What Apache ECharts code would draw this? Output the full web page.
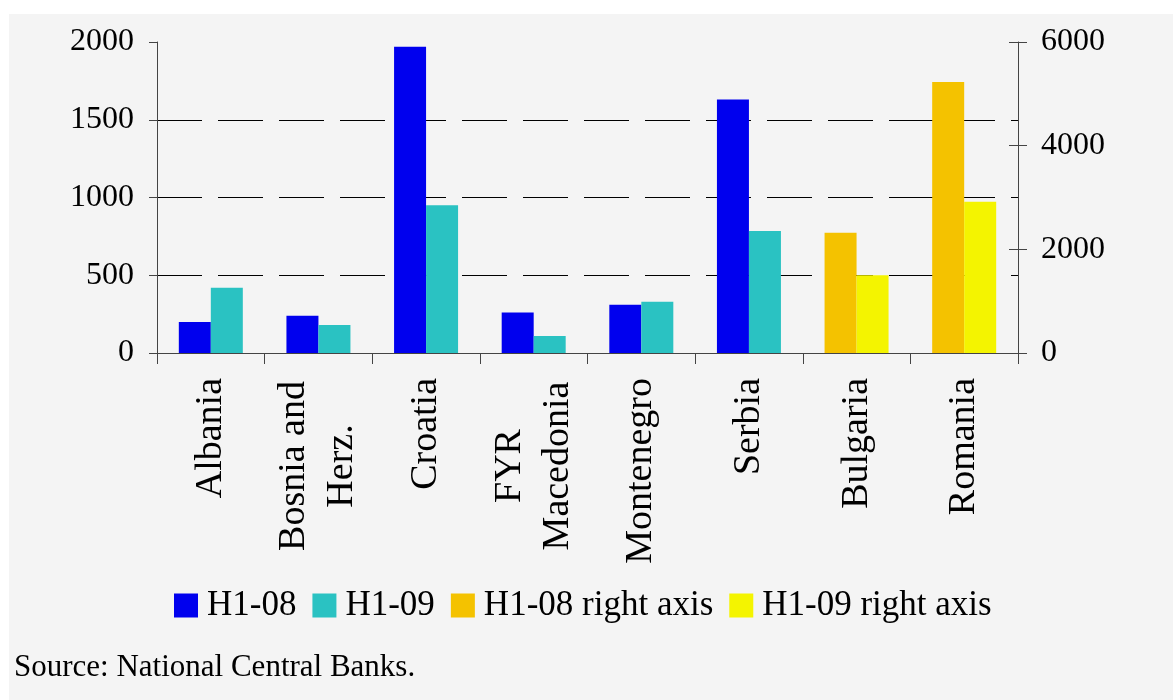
<!DOCTYPE html>
<html>
<head>
<meta charset="utf-8">
<title>H1-08 vs H1-09</title>
<script src="https://cdn.jsdelivr.net/npm/echarts@6/dist/echarts.min.js"></script>
<style>
  html, body { margin: 0; padding: 0; background: #fff; }
  #chart { width: 1173px; height: 700px; }
</style>
</head>
<body>
<div id="chart"></div>
<script>
// data
const countries = ['Albania', 'Bosnia and\nHerz.', 'Croatia', 'FYR\nMacedonia', 'Montenegro', 'Serbia', 'Bulgaria', 'Romania']
const h108 = [200, 240, 1970, 260, 310, 1630, '-', '-']
const h109 = [420, 180, 950, 110, 330, 785, '-', '-']
const h108Right = ['-', '-', '-', '-', '-', '-', 2320, 5230]
const h109Right = ['-', '-', '-', '-', '-', '-', 1500, 2920]
const leftTicks = { min: 0, max: 2000, interval: 500 }
const rightTicks = { min: 0, max: 6000, interval: 2000 }

const FONT = 'Liberation Serif'
const AXIS_COLOR = '#444'

const chart = echarts.init(document.getElementById('chart'))

function bar (name, data, yAxisIndex, stack, color) {
  return {
    name: name,
    type: 'bar',
    yAxisIndex: yAxisIndex,
    stack: stack,
    barWidth: 32,
    barGap: '0%',
    itemStyle: { color: color },
    data: data
  }
}

// plain numbers, no thousands separator
function plain (v) {
  return String(v)
}

chart.setOption({
  animation: false,
  backgroundColor: '#fff',
  textStyle: { fontFamily: FONT, color: '#000' },
  graphic: [{
    type: 'rect',
    silent: true,
    z: -100,
    shape: { x: 9, y: 14, width: 1164, height: 686 },
    style: { fill: '#f4f4f4' }
  }],
  title: {
    text: 'Source: National Central Banks.',
    left: 14,
    top: 652,
    padding: 0,
    textStyle: { fontFamily: FONT, fontSize: 31, fontWeight: 'normal', color: '#000' }
  },
  legend: {
    left: 174,
    top: 588,
    padding: 0,
    itemGap: 16,
    itemWidth: 24,
    itemHeight: 24,
    icon: 'rect',
    textStyle: { fontFamily: FONT, fontSize: 35, color: '#000', padding: [0, 0, 0, 4] },
    data: ['H1-08', 'H1-09', 'H1-08 right axis', 'H1-09 right axis']
  },
  grid: {
    left: 157,
    right: 155,
    top: 42,
    height: 311,
    outerBoundsMode: 'none'
  },
  xAxis: {
    type: 'category',
    data: countries,
    axisLine: { show: true, lineStyle: { color: AXIS_COLOR, width: 1 } },
    axisTick: { show: true, length: 11, lineStyle: { color: AXIS_COLOR } },
    axisLabel: {
      interval: 0,
      rotate: 90,
      margin: 25,
      fontFamily: FONT,
      fontSize: 38,
      lineHeight: 48,
      color: '#000',
      formatter: function (v) {
        const lines = v.split('\n')
        if (lines.length === 1) return v
        // two-line labels: lines centred on each other
        return lines.map(function (s) { return '{m|' + s + '}' }).join('\n')
      },
      rich: {
        m: { width: 176, align: 'center', fontFamily: FONT, fontSize: 38, lineHeight: 48, color: '#000' }
      }
    }
  },
  yAxis: [
    {
      type: 'value',
      position: 'left',
      min: leftTicks.min,
      max: leftTicks.max,
      interval: leftTicks.interval,
      axisLine: { show: true, lineStyle: { color: AXIS_COLOR } },
      axisTick: { show: true, length: 8, lineStyle: { color: AXIS_COLOR } },
      axisLabel: { margin: 23, fontFamily: FONT, fontSize: 32, color: '#000', formatter: plain },
      splitLine: {
        show: true,
        showMinLine: false,
        showMaxLine: false,
        lineStyle: { color: '#000', width: 1, type: [45, 16] }
      }
    },
    {
      type: 'value',
      position: 'right',
      min: rightTicks.min,
      max: rightTicks.max,
      interval: rightTicks.interval,
      axisLine: { show: true, lineStyle: { color: AXIS_COLOR } },
      axisTick: { show: true, length: 9, lineStyle: { color: AXIS_COLOR } },
      axisLabel: { margin: 23, fontFamily: FONT, fontSize: 32, color: '#000', formatter: plain },
      splitLine: { show: false }
    },
    {
      // inner half of the right axis ticks (they cross the axis)
      type: 'value',
      position: 'right',
      min: rightTicks.min,
      max: rightTicks.max,
      interval: rightTicks.interval,
      axisLine: { show: false },
      axisTick: { show: true, inside: true, length: 9, lineStyle: { color: AXIS_COLOR } },
      axisLabel: { show: false },
      splitLine: { show: false }
    }
  ],
  series: [
    bar('H1-08', h108, 0, 'a', '#0000ee'),
    bar('H1-09', h109, 0, 'b', '#2ac2c2'),
    bar('H1-08 right axis', h108Right, 1, 'a', '#f4c200'),
    bar('H1-09 right axis', h109Right, 1, 'b', '#f4f400')
  ]
})
</script>
</body>
</html>
